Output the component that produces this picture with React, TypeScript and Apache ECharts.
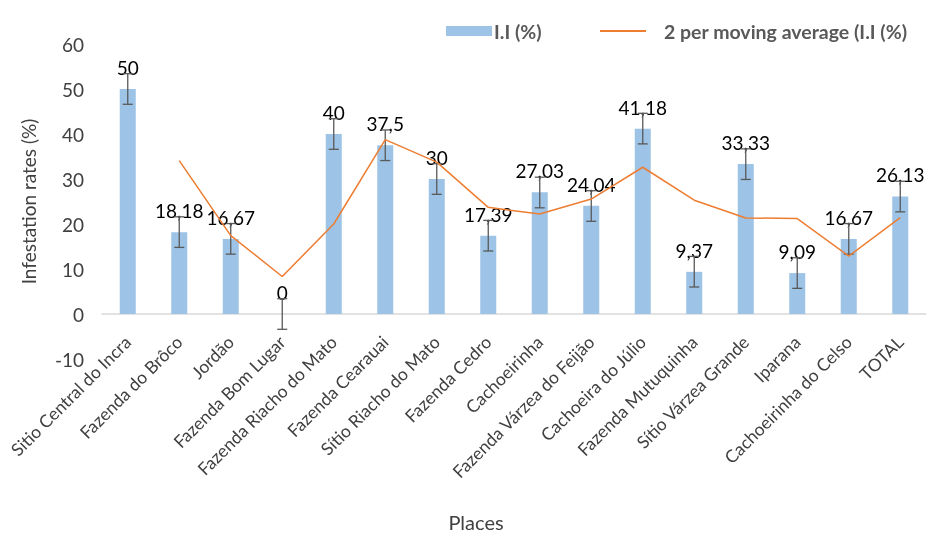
import React, { useEffect, useRef } from "react";
import * as echarts from "echarts";

const categories = [
  "Sitio Central do Incra",
  "Fazenda do Brôco",
  "Jordão",
  "Fazenda Bom Lugar",
  "Fazenda Riacho do Mato",
  "Fazenda Cearauai",
  "Sítio Riacho do Mato",
  "Fazenda Cedro",
  "Cachoeirinha",
  "Fazenda Várzea do Feijão",
  "Cachoeira do Júlio",
  "Fazenda Mutuquinha",
  "Sítio Várzea Grande",
  "Iparana",
  "Cachoeirinha do Celso",
  "TOTAL",
];
const infestation = [50, 18.18, 16.67, 0, 40, 37.5, 30, 17.39, 27.03, 24.04, 41.18, 9.37, 33.33, 9.09, 16.67, 26.13];
const movingAverage = [null, 34.09, 17.43, 8.34, 20, 38.75, 33.75, 23.7, 22.21, 25.54, 32.61, 25.28, 21.35, 21.21, 12.88, 21.4];
const errorLow = [46.6, 14.8, 13.3, -3.4, 36.6, 34.1, 26.6, 14.0, 23.6, 20.6, 37.8, 6.0, 29.9, 5.7, 13.3, 22.7];
const errorHigh = [53.4, 21.6, 20.1, 3.4, 43.4, 40.9, 33.4, 20.8, 30.4, 27.4, 44.6, 12.8, 36.7, 12.5, 20.1, 29.5];
const yTicks = { min: -10, max: 60, interval: 10 };

const FONT = "Lato, 'Open Sans', sans-serif";
const BAR_NAME = "I.I (%)";
const LINE_NAME = "2 per moving average (I.I (%)";

export default function App() {
  const ref = useRef<HTMLDivElement>(null);
  useEffect(() => {
    if (!ref.current) return;
    const chart = echarts.init(ref.current, null, { renderer: "svg" });
    const errData = categories.map((_, i) => [i, errorLow[i], errorHigh[i]]);
    const legendText = { fontFamily: FONT, fontSize: 19.5, fontWeight: "bold", color: "#595959" };
    chart.setOption({
      animation: false,
      textStyle: { fontFamily: FONT },
      grid: { left: 102, right: 1, top: 44, bottom: 177, containLabel: false },
      legend: [
        {
          top: 16,
          left: 441,
          itemWidth: 46,
          itemHeight: 10,
          textStyle: { ...legendText, padding: [0, 0, 0, -3] },
          data: [{ name: BAR_NAME, icon: "rect" }],
        },
        {
          top: 16,
          left: 594,
          itemWidth: 46,
          itemHeight: 10,
          textStyle: { ...legendText, padding: [0, 0, 0, 13] },
          data: [{ name: LINE_NAME, itemStyle: { color: "transparent", borderWidth: 0, opacity: 0 } }],
        },
      ],
      xAxis: {
        type: "category",
        data: categories,
        axisLine: { onZero: true, lineStyle: { color: "#d9d9d9", width: 1.5 } },
        axisTick: { show: false },
        axisLabel: {
          rotate: 45,
          interval: 0,
          fontSize: 17.5,
          color: "#404040",
          fontFamily: FONT,
          margin: -20,
        },
      },
      yAxis: {
        type: "value",
        min: yTicks.min,
        max: yTicks.max,
        interval: yTicks.interval,
        splitLine: { show: false },
        axisLine: { show: false },
        axisTick: { show: false },
        axisLabel: { fontSize: 19, color: "#404040", fontFamily: FONT, margin: 18 },
        name: "Infestation rates (%)",
        nameLocation: "middle",
        nameRotate: 90,
        nameGap: 64,
        nameTextStyle: { fontSize: 19, color: "#404040", fontFamily: FONT },
      },
      graphic: [
        {
          type: "text",
          x: 476,
          y: 522,
          style: {
            text: "Places",
            fontSize: 20,
            fill: "#404040",
            fontFamily: FONT,
            align: "center",
            verticalAlign: "middle",
          },
        },
      ],
      series: [
        {
          name: BAR_NAME,
          type: "bar",
          data: infestation,
          barWidth: 16,
          itemStyle: { color: "#9DC3E6" },
          label: {
            show: true,
            position: "top",
            distance: 12,
            fontSize: 19,
            color: "#000",
            fontFamily: FONT,
            formatter: (p: any) => String(p.value).replace(".", ","),
          },
          z: 2,
        },
        {
          name: LINE_NAME,
          type: "line",
          data: movingAverage,
          symbol: "none",
          lineStyle: { color: "#ED7D31", width: 1.5 },
          itemStyle: { color: "#ED7D31" },
          z: 4,
        },
        {
          type: "custom",
          name: "error",
          data: errData,
          encode: { x: 0, y: [1, 2] },
          z: 3,
          renderItem: (params: any, api: any) => {
            const x = api.value(0);
            const lo = api.coord([x, api.value(1)]);
            const hi = api.coord([x, api.value(2)]);
            const cap = 5;
            const style = { stroke: "#595959", lineWidth: 1.3 };
            return {
              type: "group",
              children: [
                { type: "line", shape: { x1: hi[0], y1: hi[1], x2: lo[0], y2: lo[1] }, style },
                { type: "line", shape: { x1: hi[0] - cap, y1: hi[1], x2: hi[0] + cap, y2: hi[1] }, style },
                { type: "line", shape: { x1: lo[0] - cap, y1: lo[1], x2: lo[0] + cap, y2: lo[1] }, style },
              ],
            };
          },
        },
      ],
    });
    return () => chart.dispose();
  }, []);
  return <div ref={ref} style={{ position: "fixed", left: 0, top: 0, width: 927, height: 536 }} />;
}
